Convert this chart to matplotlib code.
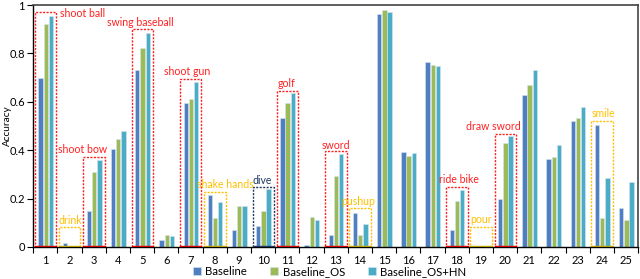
import numpy as np
import matplotlib.pyplot as plt
from matplotlib.patches import Rectangle

plt.rcParams['font.family'] = ['Lato', 'DejaVu Sans']

classes = list(range(1, 26))
baseline = [0.70, 0.015, 0.149, 0.404, 0.731, 0.030, 0.596, 0.215, 0.070, 0.088,
            0.532, 0.007, 0.050, 0.139, 0.963, 0.391, 0.766, 0.070, 0.001, 0.200,
            0.628, 0.362, 0.522, 0.504, 0.160]
baseline_os = [0.92, 0.003, 0.311, 0.446, 0.821, 0.048, 0.613, 0.120, 0.171, 0.149,
               0.594, 0.125, 0.293, 0.048, 0.979, 0.376, 0.752, 0.190, 0.001, 0.431,
               0.668, 0.373, 0.532, 0.118, 0.112]
baseline_os_hn = [0.955, 0.002, 0.360, 0.480, 0.886, 0.047, 0.683, 0.187, 0.168, 0.240,
                  0.635, 0.112, 0.384, 0.095, 0.971, 0.387, 0.749, 0.236, 0.001, 0.460,
                  0.730, 0.420, 0.580, 0.284, 0.267]
series_names = ['Baseline', 'Baseline_OS', 'Baseline_OS+HN']

# highlighted actions: (class, label, kind, box top, label x, label y)
highlights = [
    (1, 'shoot ball', 'red', 0.97, 1.62, 0.963),
    (2, 'drink', 'yellow', 0.084, 2.03, 0.109),
    (3, 'shoot bow', 'red', 0.372, 2.55, 0.404),
    (5, 'swing baseball', 'red', 0.90, 4.92, 0.927),
    (7, 'shoot gun', 'red', 0.693, 6.88, 0.725),
    (8, 'shake hands', 'yellow', 0.229, 8.45, 0.259),
    (10, 'dive', 'navy', 0.249, 9.98, 0.274),
    (11, 'golf', 'red', 0.646, 10.97, 0.676),
    (13, 'sword', 'red', 0.398, 13.0, 0.419),
    (14, 'pushup', 'yellow', 0.162, 13.93, 0.187),
    (18, 'ride bike', 'red', 0.247, 18.1, 0.277),
    (19, 'pour', 'yellow', 0.084, 18.99, 0.114),
    (20, 'draw sword', 'red', 0.467, 19.5, 0.497),
    (24, 'smile', 'yellow', 0.522, 24.05, 0.55),
]

colors = ['#4F7FC0', '#9BBB59', '#4BACC6']
box_colors = {'red': '#FF2020', 'yellow': '#FFC000', 'navy': '#1F3864'}
bottom_colors = {'red': '#E00000', 'yellow': '#B8A000', 'navy': '#1F3864'}

fig = plt.figure(figsize=(6.4, 2.79), dpi=100)
ax = fig.add_axes([0.052, 0.115, 0.945, 0.867])

x = np.array(classes)
offsets = [-0.2, 0.015, 0.23]
for vals, off, c, name in zip([baseline, baseline_os, baseline_os_hn], offsets, colors, series_names):
    ax.bar(x + off, vals, width=0.18, color=c, edgecolor='#D8E4F0', linewidth=0.4, label=name, zorder=2)

for cls, label, kind, top, lx, ly in highlights:
    bc = box_colors[kind]
    ax.add_patch(Rectangle((cls - 0.43, 0), 0.88, top, fill=False, edgecolor=bc,
                           linestyle=(0, (1.5, 1)), linewidth=1.0, zorder=3))
    ax.plot([cls - 0.43, cls + 0.45], [0.002, 0.002], color=bottom_colors[kind], linewidth=1.0, zorder=4)
    ha = 'left' if label == 'shoot ball' else 'center'
    ax.text(lx, ly, label, color=bc, fontsize=7.6, ha=ha, va='center', zorder=5)

ax.set_xlim(0.5, 25.5)
ax.set_ylim(0, 1)
ax.set_xticks(x)
ax.set_xticklabels([str(c) for c in classes], fontsize=8)
ax.set_xticks(np.arange(0.5, 26, 1), minor=True)
ax.tick_params(axis='x', which='major', length=0, pad=6)
ax.tick_params(axis='x', which='minor', length=4, width=0.8, direction='out')
ax.set_yticks([0, 0.2, 0.4, 0.6, 0.8, 1.0])
ax.set_yticklabels(['0', '0.2', '0.4', '0.6', '0.8', '1'], fontsize=8)
ax.tick_params(axis='y', length=4, width=0.8, direction='out', pad=2)
ax.set_ylabel('Accuracy', fontsize=7.2)
ax.yaxis.set_label_coords(-0.036, 0.5)

for s in ['top', 'right']:
    ax.spines[s].set_color('#444444')
    ax.spines[s].set_linewidth(1.2)
ax.spines['left'].set_linewidth(1.0)
ax.spines['bottom'].set_linewidth(1.0)

ax.legend(loc='center', bbox_to_anchor=(0.49, -0.103), ncol=3, frameon=False,
          fontsize=8.2, handlelength=0.7, handleheight=0.7, handletextpad=0.4,
          columnspacing=2.0, borderaxespad=0, borderpad=0)

fig.savefig('out.png', dpi=100)
